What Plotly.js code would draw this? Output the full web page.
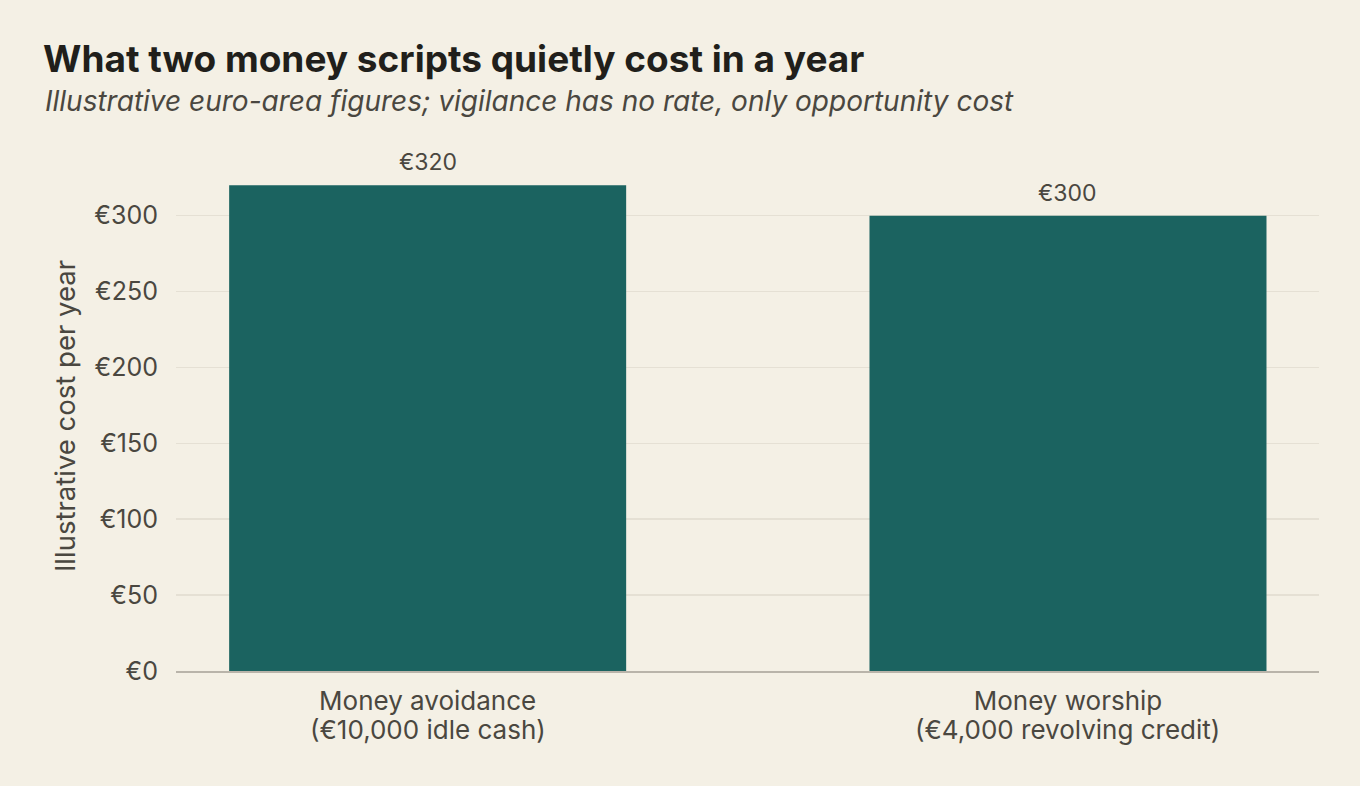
<!DOCTYPE html>
<html>
<head>
<meta charset="utf-8">
<script src="https://cdn.plot.ly/plotly-3.0.1.min.js"></script>
<style>
html,body{margin:0;padding:0;background:#F4F0E5;}
#chart{width:1360px;height:786px;}
</style>
</head>
<body>
<div id="chart"></div>
<script>
const categoryNames = ["Money avoidance", "Money worship"];
const categoryNotes = ["(€10,000 idle cash)", "(€4,000 revolving credit)"];
const costs = [320, 300];
const barLabels = ["€320", "€300"];
const yTickVals = [0, 50, 100, 150, 200, 250, 300];
const yTickText = ["€0", "€50", "€100", "€150", "€200", "€250", "€300"];

const xPos = categoryNames.map((_, i) => i);

const trace = {
  type: 'bar',
  x: xPos,
  y: costs,
  width: 0.62,
  marker: {color: '#1B6360', line: {width: 0}},
  hoverinfo: 'skip'
};

const annotations = [{
  text: '<i>Illustrative euro-area figures; vigilance has no rate, only opportunity cost</i>',
  xref: 'paper', yref: 'paper',
  x: (43 - 176) / 1143, xanchor: 'left',
  y: (671 - 101) / 510, yanchor: 'middle',
  showarrow: false,
  font: {family: 'Inter', size: 28, color: '#4A4740'}
}];
xPos.forEach(i => {
  annotations.push({
    text: barLabels[i], xref: 'x', yref: 'y', x: i, y: costs[i],
    xanchor: 'center', yanchor: 'middle', yshift: 23, showarrow: false,
    font: {family: 'Inter', size: 23, color: '#4A4740'}
  });
  annotations.push({
    text: categoryNotes[i], xref: 'x', yref: 'y', x: i, y: 0,
    xanchor: 'center', yanchor: 'middle', yshift: -58, showarrow: false,
    font: {family: 'Inter', size: 26, color: '#4A4740'}
  });
});

const layout = {
  width: 1360, height: 786,
  paper_bgcolor: '#F4F0E5',
  plot_bgcolor: '#F4F0E5',
  margin: {l: 176, r: 41, t: 161, b: 115},
  showlegend: false,
  font: {family: 'Inter', color: '#4A4740'},
  title: {
    text: '<b>What two money scripts quietly cost in a year</b>',
    x: 43 / 1360, xref: 'container', xanchor: 'left',
    y: 1 - 59 / 786, yref: 'container', yanchor: 'middle',
    font: {family: 'Inter', size: 37, color: '#211F1B'}
  },
  annotations: annotations,
  xaxis: {
    range: [-0.393, 1.392],
    tickvals: xPos,
    ticktext: categoryNames,
    tickfont: {family: 'Inter', size: 26, color: '#4A4740'},
    showgrid: false,
    zeroline: false,
    showline: true,
    linecolor: '#B9B4AA',
    linewidth: 1.5,
    ticks: 'outside', ticklen: 6, tickcolor: 'rgba(0,0,0,0)'
  },
  yaxis: {
    range: [0, 336],
    tickvals: yTickVals,
    ticktext: yTickText,
    tickfont: {family: 'Inter', size: 25, color: '#4A4740'},
    showgrid: true,
    gridcolor: '#E5E0D4',
    gridwidth: 1.5,
    zeroline: false,
    showline: false,
    ticks: 'outside', ticklen: 12, tickcolor: 'rgba(0,0,0,0)',
    title: {text: 'Illustrative cost per year', font: {family: 'Inter', size: 27.5, color: '#4A4740'}, standoff: 10}
  }
};

Plotly.newPlot('chart', [trace], layout, {displayModeBar: false, staticPlot: true});
</script>
</body>
</html>
